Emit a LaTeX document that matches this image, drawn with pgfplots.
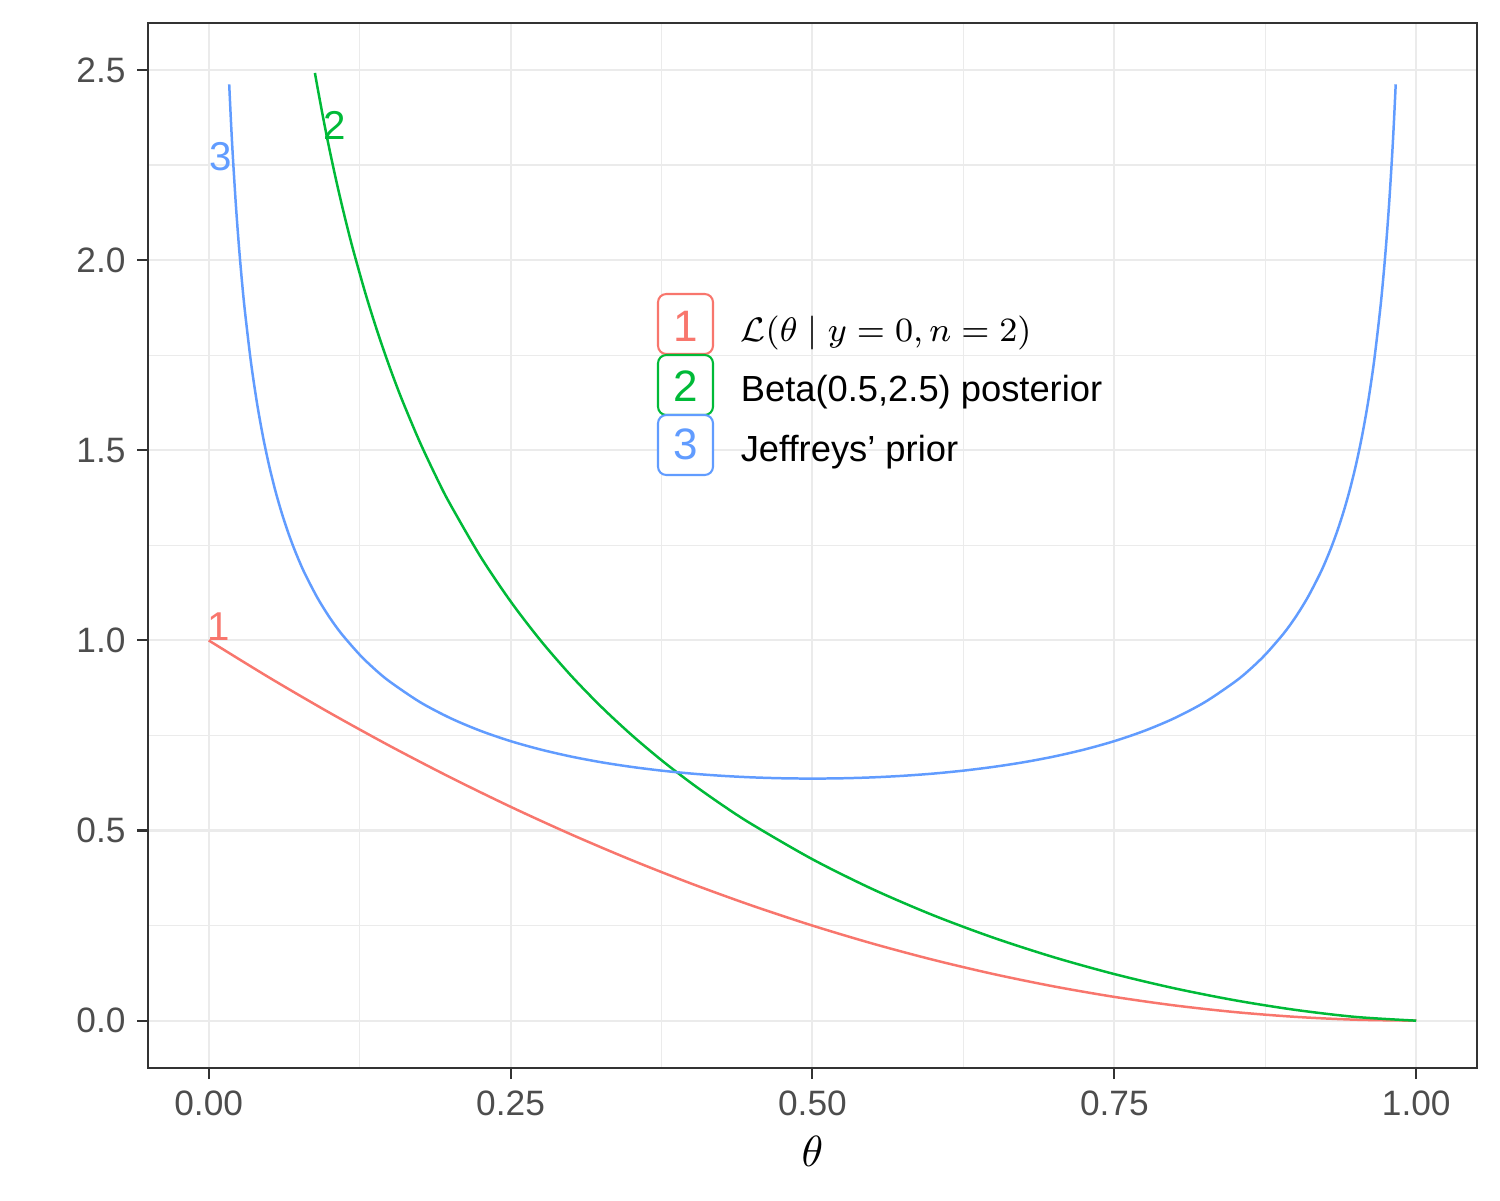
\documentclass[border=0pt]{standalone}
\usepackage{graphicx}
\usepackage[no-math]{fontspec}
\setmainfont{Liberation Sans}
\usepackage{pgfplots}
\pgfplotsset{compat=1.18}
\definecolor{cred}{HTML}{F8766D}
\definecolor{cgreen}{HTML}{00BA38}
\definecolor{cblue}{HTML}{619CFF}
\definecolor{gridc}{HTML}{EBEBEB}
\definecolor{axc}{HTML}{333333}
\definecolor{tickc}{HTML}{4D4D4D}
\begin{document}
\begin{tikzpicture}[x=0.2409pt,y=0.2409pt]
\path[use as bounding box] (0,0) rectangle (1500,1200);
\begin{axis}[
  at={(35.725pt,31.80pt)}, anchor=south west,
  scale only axis, width=320.0pt, height=251.7pt,
  xmin=-0.05, xmax=1.05, ymin=-0.1245, ymax=2.623,
  xtick={0,0.25,0.5,0.75,1}, xticklabels={0.00,0.25,0.50,0.75,1.00},
  ytick={0,0.5,1,1.5,2,2.5}, yticklabels={0.0,0.5,1.0,1.5,2.0,2.5},
  minor xtick={0.125,0.375,0.625,0.875},
  minor ytick={0.25,0.75,1.25,1.75,2.25},
  grid=both,
  major grid style={color=gridc, line width=0.5pt},
  minor grid style={color=gridc, line width=0.27pt},
  minor tick length=0pt,
  major tick length=2.65pt,
  tick align=outside,
  xtick pos=left, ytick pos=left,
  tick style={color=axc, line width=0.5pt},
  axis line style={color=axc, line width=0.5pt},
  ticklabel style={font=\fontsize{8.5}{10}\selectfont, text=tickc, inner sep=0pt},
  xticklabel style={anchor=north, yshift=-2.65pt},
  yticklabel style={anchor=east, xshift=-2.65pt},
  xlabel={\scalebox{1.05}{$\theta$}},
  xlabel style={at={(axis description cs:0.5,-0.0938)}, anchor=base, inner sep=0pt, font=\fontsize{10}{12}\selectfont},
  clip=true,
]
% likelihood (1-theta)^2
\addplot[cred, line width=0.6pt, smooth] coordinates {
(0,1) (0.05,0.9025) (0.1,0.81) (0.15,0.7225) (0.2,0.64) (0.25,0.5625)
(0.3,0.49) (0.35,0.4225) (0.4,0.36) (0.45,0.3025) (0.5,0.25) (0.55,0.2025)
(0.6,0.16) (0.65,0.1225) (0.7,0.09) (0.75,0.0625) (0.8,0.04) (0.85,0.0225)
(0.9,0.01) (0.95,0.0025) (1,0)
};
% Beta(0.5,2.5) posterior
\addplot[cgreen, line width=0.6pt, smooth] coordinates {
(0.088,2.4922) (0.09,2.4562) (0.095,2.3710) (0.1,2.2918) (0.105,2.2180) (0.11,2.1489)
(0.115,2.0839) (0.12,2.0228) (0.13,1.9104) (0.14,1.8093) (0.15,1.7175) (0.16,1.6337)
(0.175,1.5205) (0.19,1.4196) (0.2,1.3581) (0.225,1.2209) (0.25,1.1027) (0.275,0.9992)
(0.3,0.9076) (0.325,0.8257) (0.35,0.7519) (0.375,0.6849) (0.4,0.6238) (0.425,0.5677)
(0.45,0.5161) (0.5,0.4244) (0.55,0.3455) (0.6,0.2772)
(0.65,0.2180) (0.7,0.1667) (0.75,0.1225) (0.8,0.0849) (0.85,0.0535) (0.9,0.0283)
(0.95,0.00974) (1,0)
};
% Jeffreys prior
\addplot[cblue, line width=0.6pt, smooth] coordinates {
(0.017,2.4623) (0.0185,2.3622) (0.02,2.2736) (0.0225,2.1464) (0.025,2.0388) (0.0275,1.9464)
(0.03,1.8660) (0.035,1.7320) (0.04,1.6244) (0.045,1.5355) (0.05,1.4605) (0.055,1.3962)
(0.06,1.3403) (0.065,1.2912) (0.07,1.2475) (0.075,1.2085) (0.08,1.1733) (0.09,1.1123)
(0.1,1.0610) (0.11,1.0173) (0.125,0.9625) (0.1375,0.9243) (0.15,0.8915) (0.175,0.8377)
(0.2,0.7958) (0.225,0.7623) (0.25,0.7351) (0.275,0.7129) (0.3,0.6946) (0.325,0.6796)
(0.35,0.6674) (0.375,0.6575) (0.4,0.6497) (0.425,0.6439) (0.45,0.6398) (0.475,0.6374)
(0.5,0.6366) (0.525,0.6374) (0.55,0.6398) (0.575,0.6439) (0.6,0.6497) (0.625,0.6575)
(0.65,0.6674) (0.675,0.6796) (0.7,0.6946) (0.725,0.7129) (0.75,0.7351) (0.775,0.7623)
(0.8,0.7958) (0.825,0.8377) (0.85,0.8915) (0.8625,0.9243) (0.875,0.9625) (0.89,1.0173)
(0.9,1.0610) (0.91,1.1123) (0.92,1.1733) (0.925,1.2085) (0.93,1.2475) (0.935,1.2912)
(0.94,1.3403) (0.945,1.3962) (0.95,1.4605) (0.955,1.5355) (0.96,1.6244) (0.965,1.7320)
(0.97,1.8660) (0.9725,1.9464) (0.975,2.0388) (0.9775,2.1464) (0.98,2.2736) (0.9815,2.3622)
(0.983,2.4623)
};
\node[anchor=base, text=cred, inner sep=0pt, font=\fontsize{9.7}{11}\selectfont] at (axis cs:0.0085,1.0) {1};
\node[anchor=base, text=cgreen, inner sep=0pt, font=\fontsize{9.7}{11}\selectfont] at (axis cs:0.1046,2.316) {2};
\node[anchor=base, text=cblue, inner sep=0pt, font=\fontsize{9.7}{11}\selectfont] at (axis cs:0.0096,2.235) {3};
\end{axis}
% legend
\draw[cred, line width=0.5pt, fill=white, rounded corners=2pt] (658,846) rectangle (713,906);
\draw[cgreen, line width=0.5pt, fill=white, rounded corners=2pt] (658,785) rectangle (713,845);
\draw[cblue, line width=0.5pt, fill=white, rounded corners=2pt] (658,725) rectangle (713,785);
\node[anchor=base, inner sep=0pt, text=cred, font=\fontsize{10.6}{12}\selectfont] at (685.5,858) {1};
\node[anchor=base, inner sep=0pt, text=cgreen, font=\fontsize{10.6}{12}\selectfont] at (685.5,799) {2};
\node[anchor=base, inner sep=0pt, text=cblue, font=\fontsize{10.6}{12}\selectfont] at (685.5,740) {3};
\node[anchor=base west, inner sep=0pt, font=\fontsize{8}{10}\selectfont] at (740,858) {\scalebox{1.025}{$\mathcal{L}(\theta \mid y = 0, n = 2)$}};
\node[anchor=base west, inner sep=0pt, font=\fontsize{8.75}{10}\selectfont] at (740,798.3) {Beta(0.5,2.5) posterior};
\node[anchor=base west, inner sep=0pt, font=\fontsize{8.75}{10}\selectfont] at (740,738.3) {Jeffreys’ prior};
\end{tikzpicture}
\end{document}
